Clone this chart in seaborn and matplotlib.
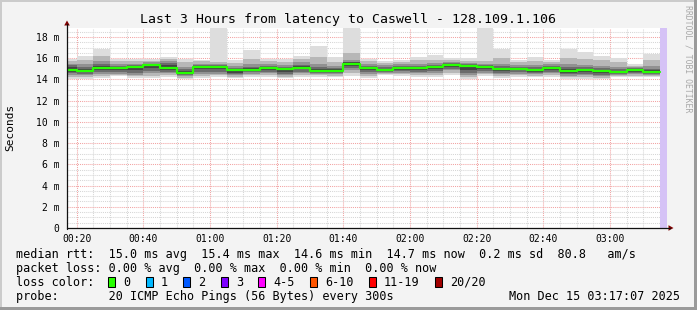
import numpy as np
import matplotlib
matplotlib.use("Agg")
import matplotlib.pyplot as plt
import seaborn as sns
from matplotlib.patches import Rectangle, Polygon
from matplotlib.lines import Line2D

# ---------------- data ----------------
step_start = ["00:15", "00:20", "00:25", "00:30", "00:35", "00:40", "00:45", "00:50", "00:55",
              "01:00", "01:05", "01:10", "01:15", "01:20", "01:25", "01:30", "01:35", "01:40",
              "01:45", "01:50", "01:55", "02:00", "02:05", "02:10", "02:15", "02:20", "02:25",
              "02:30", "02:35", "02:40", "02:45", "02:50", "02:55", "03:00", "03:05", "03:10"]
median_ms = [14.9, 14.8, 15.1, 15.1, 15.2, 15.4, 15.1, 14.65, 15.2, 15.2, 14.9, 14.9,
             15.1, 15.0, 15.1, 14.8, 14.8, 15.45, 15.1, 14.9, 15.05, 15.05, 15.2, 15.4,
             15.3, 15.2, 15.0, 15.0, 14.9, 15.1, 14.8, 14.9, 14.8, 14.7, 14.9, 14.7]
ping_min = [14.0, 14.0, 14.15, 14.3, 14.15, 14.15, 14.2, 14.0, 14.15, 14.25, 14.1, 14.2,
            14.2, 14.1, 14.2, 14.2, 14.2, 14.35, 14.1, 14.45, 14.35, 14.2, 14.2, 14.45,
            14.0, 14.35, 14.1, 14.2, 14.2, 14.2, 14.05, 14.05, 14.0, 14.2, 14.2, 14.2]
ping_max = [15.9, 16.2, 16.9, 15.9, 15.9, 15.9, 16.1, 15.9, 15.85, 20.0, 15.8, 16.8,
            15.9, 15.9, 16.2, 17.2, 16.15, 20.0, 15.9, 15.7, 15.85, 16.1, 16.3, 16.0,
            16.0, 20.0, 16.85, 15.85, 16.1, 15.85, 16.9, 16.55, 16.25, 16.05, 15.5, 16.4]
p2_lo = [14.25, 14.2, 14.35, 14.45, 14.3, 14.35, 14.4, 14.15, 14.3, 14.4, 14.25, 14.4,
         14.4, 14.25, 14.4, 14.4, 14.35, 14.6, 14.3, 14.55, 14.5, 14.4, 14.4, 14.65,
         14.2, 14.5, 14.3, 14.4, 14.35, 14.4, 14.2, 14.2, 14.15, 14.35, 14.35, 14.35]
p2_hi = [15.7, 15.8, 16.2, 15.7, 15.7, 15.75, 15.9, 15.6, 15.7, 15.6, 15.55, 15.9,
         15.7, 15.6, 15.9, 16.1, 15.6, 16.5, 15.7, 15.55, 15.65, 15.8, 15.8, 15.8,
         15.7, 15.7, 16.0, 15.6, 15.7, 15.65, 16.0, 15.9, 15.8, 15.6, 15.3, 15.8]
p3_lo = [14.45, 14.4, 14.55, 14.55, 14.45, 14.6, 14.6, 14.3, 14.5, 14.55, 14.4, 14.55,
         14.6, 14.4, 14.6, 14.55, 14.5, 14.9, 14.5, 14.65, 14.65, 14.6, 14.6, 14.85,
         14.4, 14.65, 14.5, 14.55, 14.5, 14.6, 14.35, 14.4, 14.3, 14.45, 14.5, 14.45]
p3_hi = [15.5, 15.45, 15.7, 15.5, 15.5, 15.6, 15.75, 15.2, 15.5, 15.45, 15.3, 15.5,
         15.5, 15.4, 15.6, 15.5, 15.3, 15.8, 15.5, 15.35, 15.45, 15.5, 15.55, 15.65,
         15.55, 15.5, 15.5, 15.4, 15.4, 15.45, 15.5, 15.4, 15.3, 15.2, 15.15, 15.3]
p4_lo = [14.6, 14.55, 14.7, 14.7, 14.6, 14.8, 14.75, 14.4, 14.7, 14.75, 14.5, 14.7,
         14.75, 14.55, 14.75, 14.65, 14.6, 15.1, 14.7, 14.75, 14.8, 14.75, 14.8, 15.0,
         14.6, 14.8, 14.65, 14.7, 14.6, 14.75, 14.5, 14.55, 14.45, 14.55, 14.6, 14.55]
p4_hi = [15.35, 15.2, 15.45, 15.3, 15.35, 15.5, 15.55, 14.95, 15.4, 15.35, 15.1, 15.2,
         15.3, 15.2, 15.35, 15.2, 15.05, 15.65, 15.3, 15.15, 15.25, 15.3, 15.4, 15.55,
         15.45, 15.4, 15.25, 15.2, 15.15, 15.3, 15.15, 15.15, 15.05, 14.95, 15.05, 15.0]
p5_lo = [14.75, 14.7, 14.9, 14.9, 14.85, 15.1, 14.9, 14.5, 14.95, 15.0, 14.65, 14.8,
         14.9, 14.75, 14.95, 14.7, 14.7, 15.3, 14.9, 14.8, 14.9, 14.9, 15.0, 15.2,
         14.9, 15.0, 14.8, 14.85, 14.75, 14.9, 14.65, 14.7, 14.6, 14.6, 14.75, 14.6]
p5_hi = [15.15, 15.0, 15.3, 15.2, 15.3, 15.5, 15.35, 14.8, 15.3, 15.3, 15.0, 15.05,
         15.2, 15.1, 15.25, 15.0, 14.95, 15.6, 15.2, 15.0, 15.15, 15.2, 15.3, 15.5,
         15.4, 15.3, 15.1, 15.1, 15.0, 15.2, 14.95, 15.0, 14.9, 14.8, 15.0, 14.85]

x_tick_labels = ["00:20", "00:40", "01:00", "01:20", "01:40", "02:00", "02:20", "02:40", "03:00"]
y_tick_values = [0, 2, 4, 6, 8, 10, 12, 14, 16, 18]
y_tick_labels = ["0", "2 m", "4 m", "6 m", "8 m", "10 m", "12 m", "14 m", "16 m", "18 m"]

loss_labels = ["0", "1", "2", "3", "4-5", "6-10", "11-19", "20/20"]
loss_colors = ["#26ff00", "#00b8ff", "#0059ff", "#7e00ff", "#ff00ff", "#ff5500", "#ff0000", "#a10000"]

title = "Last 3 Hours from latency to Caswell - 128.109.1.106"
legend_lines = [
    "median rtt:  15.0 ms avg  15.4 ms max  14.6 ms min  14.7 ms now  0.2 ms sd  80.8   am/s",
    "packet loss: 0.00 % avg  0.00 % max  0.00 % min  0.00 % now",
    "loss color:",
    "probe:       20 ICMP Echo Pings (56 Bytes) every 300s",
]
stamp = "Mon Dec 15 03:17:07 2025"
graph_start = "00:17:07"
graph_end = "03:17:07"
unknown_from = "03:15"


def to_min(s):
    parts = [int(p) for p in s.split(":")]
    v = parts[0] * 60 + parts[1]
    if len(parts) > 2:
        v += parts[2] / 60.0
    return v


# ---------------- figure ----------------
sns.set_theme(style="white")
plt.rcParams["font.family"] = ["DejaVu Sans Mono", "DejaVu Sans"]

W, H = 697, 310
fig = plt.figure(figsize=(W / 100, H / 100), dpi=100, facecolor="#F3F3F3")


def fx(x):
    return x / W


def fy(y):
    return 1 - y / H


ax = fig.add_axes([fx(67), fy(228), 600 / W, 200 / H])
ax.set_facecolor("white")

t = np.array([to_min(s) for s in step_start])
edges = np.append(t, t[-1] + 5)


def ext(a):
    a = np.asarray(a, dtype=float)
    return np.append(a, a[-1])


layers = [(ping_min, ping_max, "#dddddd"),
          (p2_lo, p2_hi, "#b7b7b7"),
          (p3_lo, p3_hi, "#919191"),
          (p4_lo, p4_hi, "#6b6b6b"),
          (p5_lo, p5_hi, "#454545")]
for lo, hi, col in layers:
    ax.fill_between(edges, ext(lo), ext(hi), step="post", color=col, linewidth=0, zorder=2)

sns.lineplot(x=edges, y=ext(median_ms), drawstyle="steps-post", color="#26ff00",
             linewidth=1.6, ax=ax, zorder=4, estimator=None)

x0, x1 = to_min(graph_start), to_min(graph_end)
ax.axvspan(to_min(unknown_from), x1, color="#D5C2F6", lw=0, zorder=3)

ax.set_xlim(x0, x1)
ax.set_ylim(0, 18.85)

ax.set_xticks([to_min(s) for s in x_tick_labels])
ax.set_xticklabels(x_tick_labels)
ax.set_xticks(np.arange(to_min("00:20"), x1, 5), minor=True)
ax.set_yticks(y_tick_values)
ax.set_yticklabels(y_tick_labels)
ax.set_yticks(np.arange(0, 18.85, 0.5), minor=True)

dot = (0, (1, 1))
ax.grid(which="minor", color="#d6d6d6", linestyle=dot, linewidth=0.75, zorder=0.5)
ax.grid(which="major", color="#f2a3a3", linestyle=dot, linewidth=0.75, zorder=0.6)
ax.set_axisbelow(True)

for sp in ax.spines.values():
    sp.set_visible(False)

ax.tick_params(axis="both", which="both", direction="out", labelsize=7, colors="#000000")
ax.tick_params(axis="x", which="major", length=3, width=0.75, color="#e89090", pad=1.5)
ax.tick_params(axis="x", which="minor", length=2, width=0.75, color="#555555")
ax.tick_params(axis="y", which="major", length=3, width=0.75, color="#333333", pad=2.5)
ax.tick_params(axis="y", which="minor", length=1.5, width=0.75, color="#777777")
ax.set_xlabel("")
ax.set_ylabel("")

# axes lines and arrows (figure pixel coords)
fig.add_artist(Line2D([fx(67), fx(67)], [fy(228.5), fy(24)], color="#111111", lw=0.9))
fig.add_artist(Line2D([fx(66.5), fx(670)], [fy(228), fy(228)], color="#111111", lw=0.9))
fig.add_artist(Polygon([(fx(67), fy(20.5)), (fx(64.2), fy(25.5)), (fx(69.8), fy(25.5))],
                       closed=True, color="#7f0000", lw=0))
fig.add_artist(Polygon([(fx(673.5), fy(228)), (fx(668.5), fy(225.2)), (fx(668.5), fy(230.8))],
                       closed=True, color="#7f0000", lw=0))

# frame shading
fig.add_artist(Rectangle((0, fy(2)), 1, 2 / H, color="#CBCBCB", lw=0))
fig.add_artist(Rectangle((0, 0), 2 / W, 1, color="#CBCBCB", lw=0))
fig.add_artist(Rectangle((0, 0), 1, 3 / H, color="#9a9a9a", lw=0))
fig.add_artist(Rectangle((fx(694), 0), 3 / W, 1, color="#9a9a9a", lw=0))

# texts
fig.text(fx(348), fy(19), title, ha="center", va="center", fontsize=9.5, color="#000000")
fig.text(fx(10.5), fy(127), "Seconds", ha="center", va="center", rotation=90, fontsize=8,
         color="#000000")
fig.text(fx(688), fy(59), "RRDTOOL / TOBI OETIKER", ha="center", va="center", rotation=270,
         fontsize=5.9, color="#a8a8a8")

row_y = [254.5, 268.5, 282.3, 296.2]
for s, yy in zip(legend_lines, row_y):
    fig.text(fx(16), fy(yy), s, ha="left", va="center", fontsize=8.5, color="#000000")
fig.text(fx(680), fy(row_y[3]), stamp, ha="right", va="center", fontsize=8.5, color="#000000")

cw = 7.1
xb = 108.3
for lab, col in zip(loss_labels, loss_colors):
    fig.add_artist(Rectangle((fx(xb), fy(286.5)), 7 / W, 9.5 / H, facecolor=col,
                             edgecolor="#000000", lw=0.75))
    fig.text(fx(xb + 15), fy(row_y[2]), lab, ha="left", va="center", fontsize=8.5,
             color="#000000")
    xb = xb + 15 + len(lab) * cw + 15.4

fig.savefig("out.png", dpi=100, facecolor=fig.get_facecolor())
